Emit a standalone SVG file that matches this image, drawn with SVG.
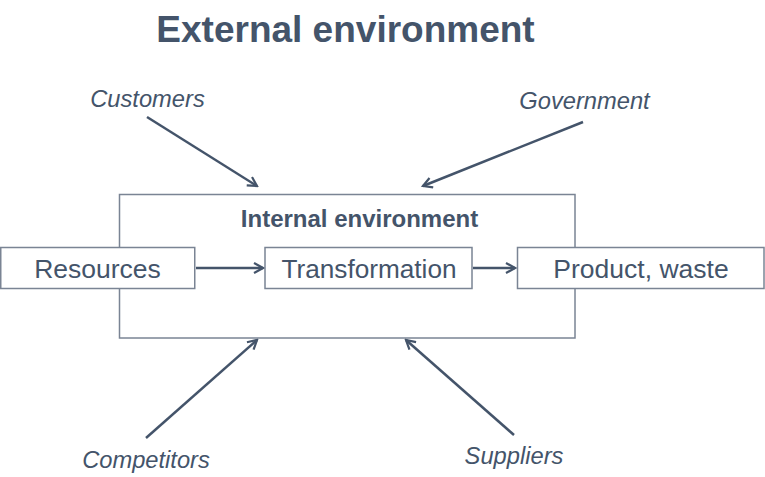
<svg xmlns="http://www.w3.org/2000/svg" width="765" height="477" viewBox="0 0 765 477">
<style>
.t{font-family:"Liberation Sans",Arial,sans-serif;fill:#44546a}
.lbl{font-style:italic;font-size:23.7px}
.box{fill:#fff;stroke:#7a8494;stroke-width:1.5}
.con{stroke:#44546a;stroke-width:2.5;fill:none;marker-end:url(#ah)}
</style>
<defs>
<marker id="ah" viewBox="0 0 12 12" refX="10" refY="6" markerWidth="12" markerHeight="12" markerUnits="userSpaceOnUse" orient="auto">
<path d="M1,1 L10,6 L1,11" fill="none" stroke="#44546a" stroke-width="2.2"/>
</marker>
</defs>
<rect width="765" height="477" fill="#fff"/>
<text class="t" x="345.5" y="42" font-size="37" font-weight="bold" text-anchor="middle">External environment</text>
<g id="internal">
<rect class="box" x="119.5" y="194.5" width="455.5" height="143.5"/>
<text class="t" x="359.5" y="227" font-size="24" font-weight="bold" text-anchor="middle">Internal environment</text>
</g>
<g id="connectors">
<line class="con" x1="196" y1="268" x2="263" y2="268"/>
<line class="con" x1="473" y1="268" x2="515" y2="268"/>
<line class="con" x1="147" y1="117" x2="257" y2="186"/>
<line class="con" x1="583" y1="122" x2="423" y2="186"/>
<line class="con" x1="146" y1="438" x2="257" y2="340"/>
<line class="con" x1="514" y1="435" x2="406" y2="340"/>
</g>
<g id="resources">
<rect class="box" x="0.75" y="247.5" width="194" height="41"/>
<text class="t" x="97.5" y="278" font-size="26.5" text-anchor="middle">Resources</text>
</g>
<g id="transformation">
<rect class="box" x="265" y="247.5" width="207" height="41"/>
<text class="t" x="369" y="278" font-size="26.2" text-anchor="middle">Transformation</text>
</g>
<g id="product">
<rect class="box" x="517.5" y="247.5" width="246.5" height="41"/>
<text class="t" x="641" y="278" font-size="26.5" text-anchor="middle">Product, waste</text>
</g>
<g id="customers"><text class="t lbl" x="147.5" y="107" text-anchor="middle">Customers</text></g>
<g id="government"><text class="t lbl" x="584.5" y="109" text-anchor="middle">Government</text></g>
<g id="competitors"><text class="t lbl" x="146" y="468" text-anchor="middle">Competitors</text></g>
<g id="suppliers"><text class="t lbl" x="514" y="464" text-anchor="middle">Suppliers</text></g>
</svg>
